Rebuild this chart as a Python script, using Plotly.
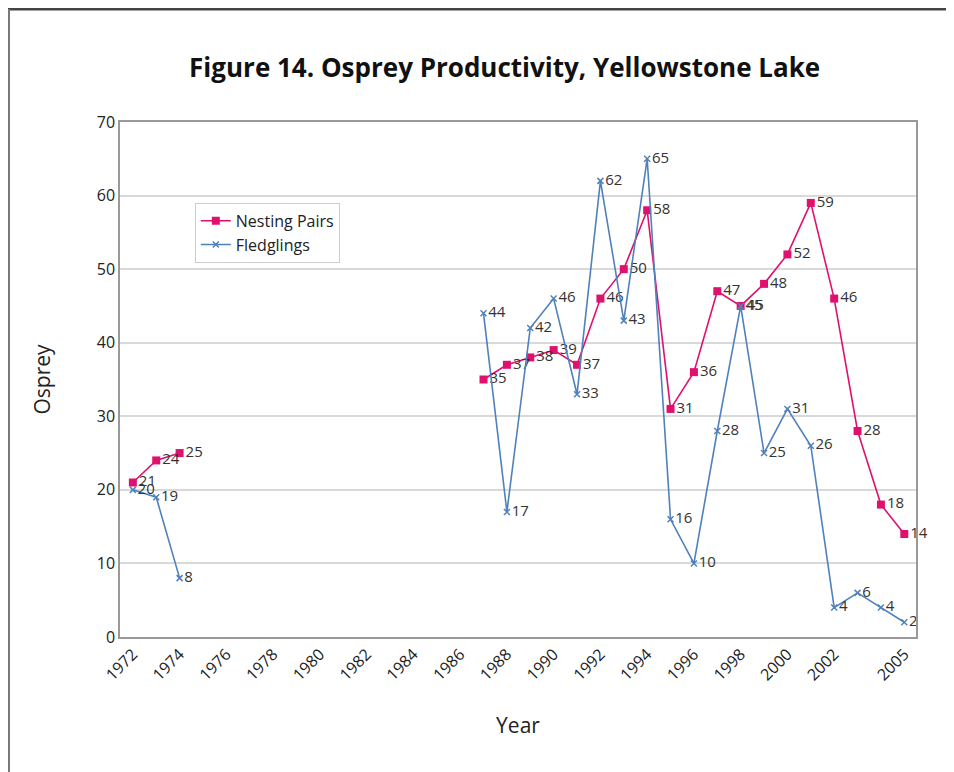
import plotly.graph_objects as go

years = [1972, 1973, 1974, 1975, 1976, 1977, 1978, 1979, 1980, 1981, 1982, 1983, 1984, 1985, 1986,
         1987, 1988, 1989, 1990, 1991, 1992, 1993, 1994, 1995, 1996, 1997, 1998, 1999, 2000,
         2001, 2002, 2003, 2004, 2005]
nesting_pairs = [21, 24, 25, None, None, None, None, None, None, None, None, None, None, None, None,
                 35, 37, 38, 39, 37, 46, 50, 58, 31, 36, 47, 45, 48, 52, 59, 46, 28, 18, 14]
fledglings = [20, 19, 8, None, None, None, None, None, None, None, None, None, None, None, None,
              44, 17, 42, 46, 33, 62, 43, 65, 16, 10, 28, 45, 25, 31, 26, 4, 6, 4, 2]
tick_years = [1972, 1974, 1976, 1978, 1980, 1982, 1984, 1986, 1988, 1990, 1992, 1994, 1996,
              1998, 2000, 2002, 2005]

FONT = "Open Sans"
pink = "#e0106e"
blue = "#4f81bd"

def labels(vals):
    return ["" if v is None else str(v) for v in vals]

fig = go.Figure()
fig.add_trace(go.Scatter(
    x=years, y=nesting_pairs, name="Nesting Pairs", mode="lines+markers+text",
    line=dict(color=pink, width=1.6), marker=dict(symbol="square", size=8, color=pink),
    text=labels(nesting_pairs), textposition="middle right", cliponaxis=False,
    textfont=dict(family=FONT, size=15, color="#333333"), connectgaps=False,
))
fig.add_trace(go.Scatter(
    x=years, y=fledglings, name="Fledglings", mode="lines+markers+text",
    line=dict(color=blue, width=1.6), marker=dict(symbol="x-thin", size=6, color=blue,
                                                  line=dict(color=blue, width=1.5)),
    text=labels(fledglings), textposition="middle right", cliponaxis=False,
    textfont=dict(family=FONT, size=15, color="#333333"), connectgaps=False,
))

fig.update_layout(
    width=946, height=764,
    paper_bgcolor="white", plot_bgcolor="white",
    margin=dict(l=112, r=38, t=114, b=135),
    font=dict(family=FONT, color="#222222"),
    title=dict(text="<b>Figure 14. Osprey Productivity, Yellowstone Lake</b>",
               x=0.525, xanchor="center", y=0.921, yanchor="middle",
               font=dict(family=FONT, size=26, color="#111111")),
    showlegend=True,
    legend=dict(x=0.094, y=0.843, xanchor="left", yanchor="top",
                bordercolor="#cccccc", borderwidth=1, bgcolor="white",
                font=dict(family=FONT, size=16, color="#222222"),
                tracegroupgap=0, itemwidth=30),
    xaxis=dict(range=[1971.45, 2005.5], tickvals=tick_years, ticktext=[str(t) for t in tick_years],
               tickangle=-45, showgrid=False, showline=True, linecolor="#999999", linewidth=1.5,
               mirror=True, zeroline=False, ticks="", tickfont=dict(family=FONT, size=16, color="#222222"),
               title=dict(text="Year", font=dict(family=FONT, size=21, color="#222222"), standoff=34)),
    yaxis=dict(range=[0, 70], dtick=10, showgrid=True, gridcolor="#d9d9d9", gridwidth=1.5,
               showline=True, linecolor="#999999", linewidth=1.5, mirror=True, zeroline=False,
               ticks="", tickfont=dict(family=FONT, size=16, color="#222222"),
               title=dict(text="Osprey", font=dict(family=FONT, size=21, color="#222222"), standoff=40)),
    shapes=[
        dict(type="line", xref="paper", yref="paper", x0=-0.1407, x1=1.05, y0=1.2194, y1=1.2194,
             line=dict(color="#444444", width=3)),
        dict(type="line", xref="paper", yref="paper", x0=-0.1395, x1=-0.1395, y0=1.2194, y1=-0.27,
             line=dict(color="#777777", width=2)),
    ],
)

fig.write_html("out.html")
